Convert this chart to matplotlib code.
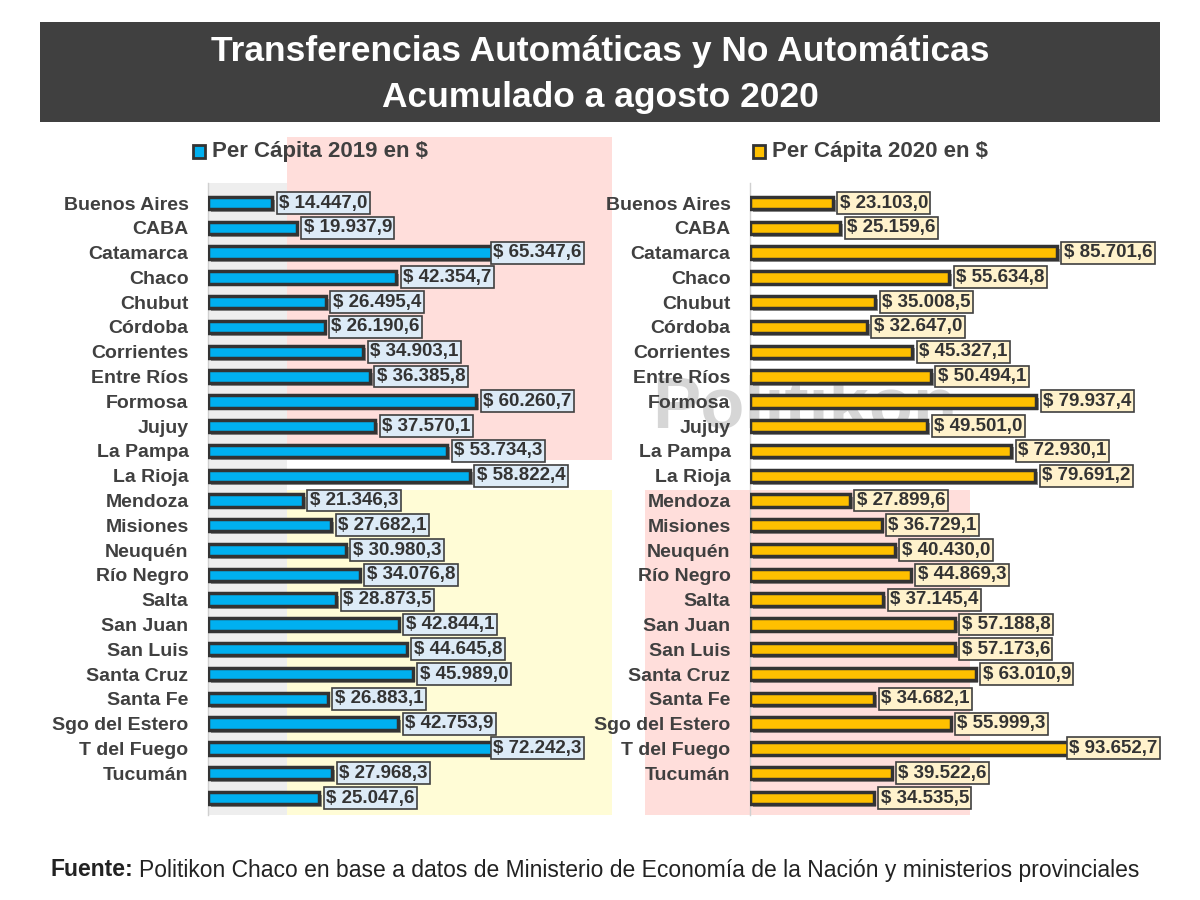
import matplotlib
matplotlib.use("Agg")
import matplotlib.pyplot as plt
from matplotlib.patches import Rectangle
import matplotlib.patheffects as pe

provinces = ["Buenos Aires", "CABA", "Catamarca", "Chaco", "Chubut", "Córdoba",
             "Corrientes", "Entre Ríos", "Formosa", "Jujuy", "La Pampa", "La Rioja",
             "Mendoza", "Misiones", "Neuquén", "Río Negro", "Salta", "San Juan",
             "San Luis", "Santa Cruz", "Santa Fe", "Sgo del Estero", "T del Fuego",
             "Tucumán", ""]
per_capita_2019 = [14447.0, 19937.9, 65347.6, 42354.7, 26495.4, 26190.6, 34903.1,
                   36385.8, 60260.7, 37570.1, 53734.3, 58822.4, 21346.3, 27682.1,
                   30980.3, 34076.8, 28873.5, 42844.1, 44645.8, 45989.0, 26883.1,
                   42753.9, 72242.3, 27968.3, 25047.6]
per_capita_2020 = [23103.0, 25159.6, 85701.6, 55634.8, 35008.5, 32647.0, 45327.1,
                   50494.1, 79937.4, 49501.0, 72930.1, 79691.2, 27899.6, 36729.1,
                   40430.0, 44869.3, 37145.4, 57188.8, 57173.6, 63010.9, 34682.1,
                   55999.3, 93652.7, 39522.6, 34535.5]
title_lines = ["Transferencias Automáticas y No Automáticas", "Acumulado a agosto 2020"]
legend_2019 = "Per Cápita 2019 en $"
legend_2020 = "Per Cápita 2020 en $"
source_bold = "Fuente:"
source_text = "Politikon Chaco en base a datos de Ministerio de Economía de la Nación y ministerios provinciales"

FONT = ["Liberation Sans", "DejaVu Sans"]
plt.rcParams["font.family"] = FONT

W, H = 1200, 900
fig = plt.figure(figsize=(12, 9), dpi=100)
fig.patch.set_facecolor("white")


def fx(px):
    return px / W


def fy(py):
    return 1 - py / H


def frect(x0, y0, x1, y1, color, z=-1, ec="none", lw=0):
    fig.patches.append(Rectangle((fx(x0), fy(y1)), fx(x1) - fx(x0), fy(y0) - fy(y1),
                                 transform=fig.transFigure, facecolor=color,
                                 edgecolor=ec, linewidth=lw, zorder=z))


# background decorative blocks
frect(208, 183, 287, 815, "#EEEEEE")
frect(287, 137, 612, 460, "#FFDEDB")
frect(287, 490, 612, 815, "#FFFCD6")
frect(645, 490, 970, 815, "#FFDEDB")
fig.text(fx(805), fy(408), "Politikon", fontsize=52, color="#D6D6D6",
         ha="center", va="center", zorder=-0.5, fontweight="bold")

# title box
frect(40, 22, 1160, 122, "#404040", z=1)
fig.text(0.5, fy(52), title_lines[0], ha="center", va="center", color="white",
         fontsize=25.5, fontweight="bold", zorder=2)
fig.text(0.5, fy(97), title_lines[1], ha="center", va="center", color="white",
         fontsize=25.5, fontweight="bold", zorder=2)

n = len(provinces)
row_top, row_bot = 203, 798
step = (row_bot - row_top) / (n - 1)
ax_top = row_top - 0.8 * step
ax_bot = row_bot + 0.7 * step


def make_panel(x0, x1, values, xmax, bar_color, box_color, legend_label, leg_x):
    ax = fig.add_axes([fx(x0), fy(ax_bot), fx(x1) - fx(x0), fy(ax_top) - fy(ax_bot)])
    ax.set_zorder(1)
    ax.set_facecolor("none")
    ypos = list(range(n))
    bars = ax.barh(ypos, values, height=0.5, color=bar_color, edgecolor="#333333",
                   linewidth=2.5, zorder=3)
    for b in bars:
        b.set_path_effects([pe.SimplePatchShadow(offset=(2, -2), shadow_rgbFace="#555555",
                                                 alpha=0.6), pe.Normal()])
    ax.set_xlim(0, xmax)
    ax.set_ylim(n - 0.3, -0.8)
    ax.set_yticks(ypos)
    ax.set_yticklabels(provinces, fontsize=14, fontweight="bold", color="#404040")
    ax.tick_params(axis="y", length=0, pad=14)
    ax.set_xticks([])
    for s in ["top", "right", "bottom"]:
        ax.spines[s].set_visible(False)
    ax.spines["left"].set_color("#D0D0D0")
    ax.spines["left"].set_linewidth(1)
    ax.spines["left"].set_zorder(2)
    texts = []
    for yi, v in zip(ypos, values):
        s = f"{v:,.1f}".replace(",", "X").replace(".", ",").replace("X", ".")
        t = ax.annotate(f"$ {s}", xy=(v, yi), xytext=(5, 0), textcoords="offset points",
                        ha="left", va="center", fontsize=13.5, fontweight="bold",
                        color="#333333", zorder=5, annotation_clip=False,
                        bbox=dict(boxstyle="square,pad=0.13", facecolor=box_color,
                                  edgecolor="#404040", linewidth=1.2))
        texts.append(t)
    # legend
    frect(leg_x, 145, leg_x + 12, 158, bar_color, z=4, ec="#333333", lw=2)
    fig.text(fx(leg_x + 19), fy(152), legend_label, fontsize=16, fontweight="bold",
             color="#404040", ha="left", va="center")
    return ax, texts


axL, textsL = make_panel(208, 584, per_capita_2019, 84500, "#00B0F0", "#DDEBF7",
                         legend_2019, 193)
axR, textsR = make_panel(750, 1160, per_capita_2020, 114500, "#FFC000", "#FFF2CC",
                         legend_2020, 753)

# keep value boxes inside the panel
fig.canvas.draw()
renderer = fig.canvas.get_renderer()
for ax, texts in [(axL, textsL), (axR, textsR)]:
    right_px = ax.get_window_extent(renderer).x1
    for t in texts:
        bb = t.get_bbox_patch().get_window_extent(renderer)
        if bb.x1 > right_px:
            over = (bb.x1 - right_px) * 72.0 / fig.dpi
            t.xyann = (5 - over, 0)

# source
tb = fig.text(fx(50), fy(870), source_bold, fontsize=16.5, fontweight="bold",
              color="#222222", ha="left", va="center")
fig.canvas.draw()
bb = tb.get_window_extent(renderer)
fig.text((bb.x1 + 6) / W, fy(870), source_text, fontsize=16.5, color="#222222",
         ha="left", va="center")

fig.savefig("out.png", dpi=100, facecolor="white")
